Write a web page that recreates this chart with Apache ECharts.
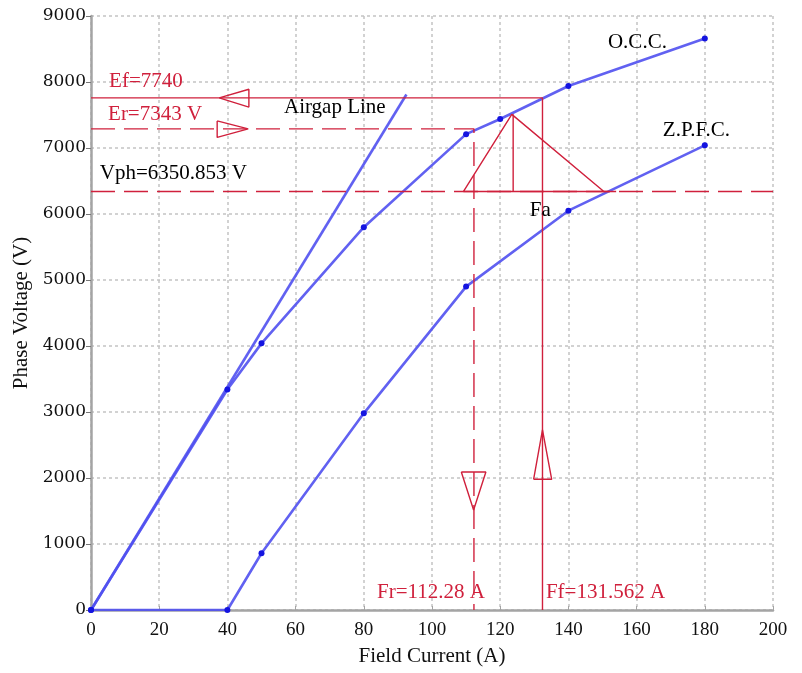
<!DOCTYPE html>
<html>
<head>
<meta charset="utf-8">
<title>OCC / ZPFC</title>
<script src="https://cdn.jsdelivr.net/npm/echarts@6/dist/echarts.min.js"></script>
<style>
  html, body { margin: 0; padding: 0; background: #fff; }
  #chart { width: 802px; height: 673px; }
</style>
</head>
<body>
<div id="chart"></div>
<script>
// values
const occCurrent = [0, 40, 50, 80, 110, 120, 140, 180];
const occVoltage = [0, 3340, 4040, 5800, 7210, 7440, 7940, 8660];
const zpfcCurrent = [0, 40, 50, 80, 110, 140, 180];
const zpfcVoltage = [0, 0, 860, 2980, 4900, 6050, 7040];
const airgapCurrent = [0, 92.5];
const airgapVoltage = [0, 7810];

const Ef = 7760;
const Er = 7290;
const Vph = 6340;
const Fr = 112.3;
const Ff = 132.4;

// Potier triangle: apex on the O.C.C., base on the Vph line
const triApex = [123.4, 7510];
const triBase = [109.2, 150.4];

// arrow heads (data units)
const efArrow = [[37.6, 7760], [46.3, 7890], [46.3, 7620], [37.6, 7760]];
const erArrow = [[37.0, 7410], [46.1, 7290], [37.0, 7160], [37.0, 7410]];
const frArrow = [[108.6, 2090], [115.8, 2090], [112.2, 1515], [108.6, 2090]];
const ffArrow = [[129.8, 1980], [135.1, 1980], [132.4, 2730], [129.8, 1980]];

const notes = [
  { text: 'Ef=7740', at: [5.3, 8010], red: true },
  { text: 'Er=7343 V', at: [5.0, 7510], red: true },
  { text: 'Vph=6350.853 V', at: [2.6, 6620], red: false },
  { text: 'Airgap Line', at: [56.6, 7620], red: false },
  { text: 'O.C.C.', at: [151.6, 8600], red: false },
  { text: 'Z.P.F.C.', at: [167.7, 7270], red: false },
  { text: 'Fa', at: [128.7, 6060], red: false },
  { text: 'Fr=112.28 A', at: [83.9, 260], red: true },
  { text: 'Ff=131.562 A', at: [133.4, 260], red: true }
];

const xTicks = [0, 20, 40, 60, 80, 100, 120, 140, 160, 180, 200];
const yTicks = [0, 1000, 2000, 3000, 4000, 5000, 6000, 7000, 8000, 9000];

const BLUE = '#5050f0';
const DOT = '#1414e0';
const RED = '#d0203c';
const SERIF = '"Liberation Serif", "Times New Roman", serif';

const zip = (a, b) => a.map((v, i) => [v, b[i]]);

const redLine = (data, dashed) => ({
  type: 'line',
  data: data,
  symbol: 'none',
  silent: true,
  z: 4,
  lineStyle: { color: RED, width: 1.4, type: dashed ? [24, 9] : 'solid' }
});

const chart = echarts.init(document.getElementById('chart'));

chart.setOption({
  animation: false,
  backgroundColor: '#fff',
  grid: { left: 91, right: 29, top: 16, bottom: 63 },
  xAxis: {
    type: 'value',
    min: xTicks[0],
    max: xTicks[xTicks.length - 1],
    interval: 20,
    name: 'Field Current (A)',
    nameLocation: 'middle',
    nameGap: 36,
    nameTextStyle: { fontFamily: SERIF, fontSize: 21, color: '#111' },
    axisLine: { lineStyle: { color: '#a4a4a4', width: 2.5 } },
    axisTick: { show: true, inside: true, length: 4, lineStyle: { color: '#a4a4a4' } },
    axisLabel: { fontFamily: SERIF, fontSize: 19, color: '#111', margin: 11 },
    splitLine: { show: true, lineStyle: { color: '#c4c4c4', width: 1.5, type: [3, 3] } }
  },
  yAxis: {
    type: 'value',
    min: yTicks[0],
    max: yTicks[yTicks.length - 1],
    interval: 1000,
    name: 'Phase Voltage (V)',
    nameLocation: 'middle',
    nameGap: 50,
    nameTextStyle: { fontFamily: SERIF, fontSize: 21, color: '#111' },
    axisLine: { show: true, lineStyle: { color: '#a4a4a4', width: 2.5 } },
    axisTick: { show: true, length: 5, lineStyle: { color: '#777' } },
    axisLabel: {
      fontFamily: '"DejaVu Serif", serif',
      fontSize: 17,
      color: '#111',
      margin: 5,
      formatter: v => String(v)
    },
    splitLine: { show: true, lineStyle: { color: '#c4c4c4', width: 1.5, type: [3, 3] } }
  },
  series: [
    {
      name: 'Airgap Line',
      type: 'line',
      data: zip(airgapCurrent, airgapVoltage),
      symbol: 'none',
      z: 3,
      lineStyle: { color: BLUE, width: 2.6, opacity: 0.9 }
    },
    {
      name: 'O.C.C.',
      type: 'line',
      data: zip(occCurrent, occVoltage),
      symbol: 'circle',
      symbolSize: 6,
      z: 3,
      itemStyle: { color: DOT },
      lineStyle: { color: BLUE, width: 2.6, opacity: 0.9 }
    },
    {
      name: 'Z.P.F.C.',
      type: 'line',
      data: zip(zpfcCurrent, zpfcVoltage),
      symbol: 'circle',
      symbolSize: 6,
      z: 3,
      itemStyle: { color: DOT },
      lineStyle: { color: BLUE, width: 2.6, opacity: 0.9 }
    },
    redLine([[0, Ef], [Ff, Ef], [Ff, 0]], false),
    redLine([[0, Er], [Fr, Er], [Fr, 0]], true),
    redLine([[0, Vph], [200, Vph]], true),
    redLine([[triBase[0], Vph], triApex, [triBase[1], Vph], [triBase[0], Vph]], false),
    redLine([[triBase[1], Vph], [154, Vph]], false),
    redLine([[triApex[0] + 0.4, triApex[1]], [triApex[0] + 0.4, Vph]], false),
    redLine(efArrow, false),
    redLine(erArrow, false),
    redLine(frArrow, false),
    redLine(ffArrow, false),
    {
      type: 'scatter',
      symbolSize: 0,
      silent: true,
      z: 6,
      itemStyle: { opacity: 1 },
      data: notes.map(n => ({
        value: n.at,
        label: {
          show: true,
          position: 'right',
          distance: 0,
          opacity: 1,
          formatter: n.text,
          fontFamily: SERIF,
          fontSize: 21,
          color: n.red ? RED : '#000'
        }
      }))
    }
  ]
});
</script>
</body>
</html>
